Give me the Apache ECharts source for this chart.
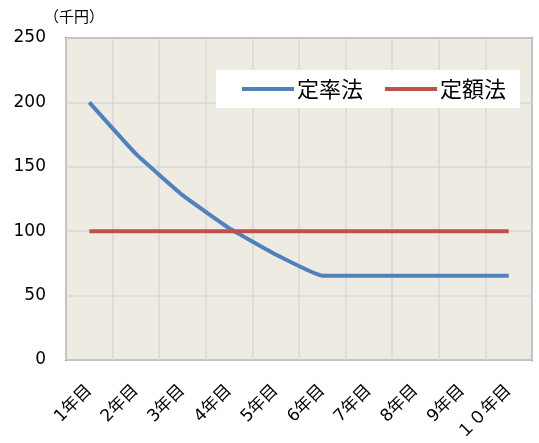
<!DOCTYPE html>
<html>
<head>
<meta charset="utf-8">
<script src="https://cdn.jsdelivr.net/npm/echarts@6/dist/echarts.min.js"></script>
<style>
  html, body { margin: 0; padding: 0; background: #fff; }
  #chart { width: 539px; height: 443px; }
</style>
</head>
<body>
<div id="chart"></div>
<script>
// 年目ごとの償却額（千円）
const years = ['1年目', '2年目', '3年目', '4年目', '5年目', '6年目', '7年目', '8年目', '9年目', '１０年目'];
const teiritsu = [200, 160, 128, 102.4, 81.9, 65.5, 65.5, 65.5, 65.5, 65.5];
const teigaku = [100, 100, 100, 100, 100, 100, 100, 100, 100, 100];
const yTicks = { min: 0, max: 250, step: 50 };

const font = "'DejaVu Sans', 'Noto Sans CJK JP', sans-serif";
const cjk = "'Noto Sans CJK JP', sans-serif";

const chart = echarts.init(document.getElementById('chart'));
chart.setOption({
  animation: false,
  backgroundColor: '#fff',
  textStyle: { fontFamily: font, color: '#000' },
  grid: {
    left: 66, right: 7, top: 38, bottom: 83,
    outerBoundsMode: 'none',
    containLabel: false,
    show: true,
    backgroundColor: '#EEEBE3',
    borderColor: '#8a8a8a',
    borderWidth: 2
  },
  graphic: [{
    type: 'text',
    left: 44, top: 9,
    style: { text: '（千円）', font: "15px " + cjk, fill: '#000' }
  }],
  legend: {
    right: 19, top: 70,
    padding: [8, 14, 8, 26],
    backgroundColor: '#fff',
    itemWidth: 52, itemHeight: 4,
    itemGap: 22,
    icon: 'rect',
    textStyle: { fontSize: 22, color: '#000', fontFamily: cjk, padding: [0, 0, 0, -2] },
    data: ['定率法', '定額法']
  },
  xAxis: {
    type: 'category',
    data: years,
    boundaryGap: true,
    axisLine: { show: false },
    axisTick: { show: false },
    splitLine: { show: true, interval: 0, lineStyle: { color: '#d8d6d8', width: 1.5 } },
    axisLabel: {
      interval: 0, rotate: 45, fontSize: 17, color: '#000', margin: 28,
      fontFamily: font
    }
  },
  yAxis: {
    type: 'value',
    min: yTicks.min, max: yTicks.max, interval: yTicks.step,
    axisLine: { show: false },
    axisTick: { show: false },
    splitLine: { lineStyle: { color: '#d8d6d8', width: 1.5 } },
    axisLabel: { fontSize: 17, color: '#000', margin: 20 }
  },
  series: [
    {
      name: '定率法', type: 'line', data: teiritsu,
      smooth: 0.1, symbol: 'none',
      lineStyle: { color: '#4F81BD', width: 4 },
      itemStyle: { color: '#4F81BD' }
    },
    {
      name: '定額法', type: 'line', data: teigaku,
      symbol: 'none',
      lineStyle: { color: '#C0504D', width: 4 },
      itemStyle: { color: '#C0504D' }
    }
  ]
});
</script>
</body>
</html>
